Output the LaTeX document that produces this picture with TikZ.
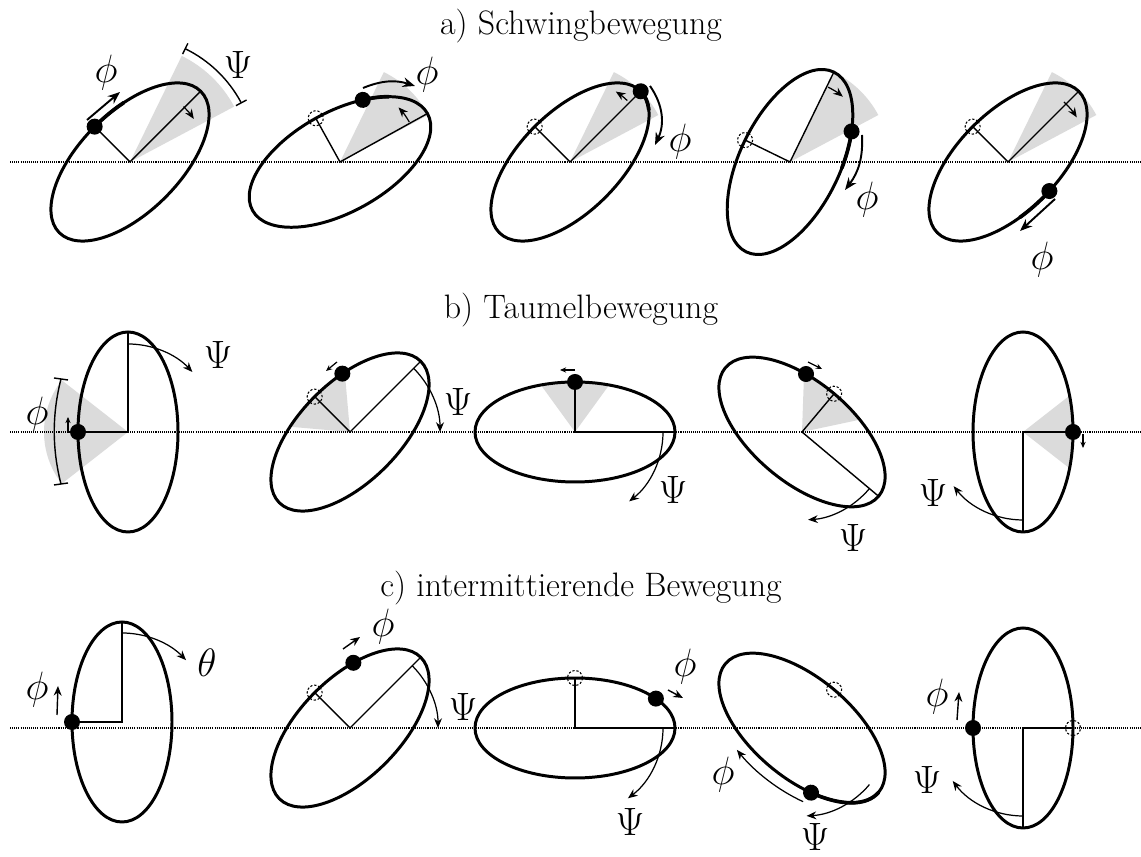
\RequirePackage{fix-cm}
\documentclass[tikz,border=0pt]{standalone}
\usetikzlibrary{arrows.meta}

\begin{document}
\begin{tikzpicture}[
  x=0.02cm,
  y=0.02cm,
  every node/.style={font=\fontsize{22.5}{27}\selectfont},
  heading/.style={font=\fontsize{19.3}{23}\selectfont, anchor=base},
  horizon/.style={line width=0.7pt, dash pattern=on 0.6pt off 0.6pt},
  ring/.style={line width=1.7pt},
  trail/.style={line width=2.1pt, line cap=round},
  spoke/.style={line width=0.8pt},
  sweep/.style={fill=black!14},
  mass/.style={fill=black},
  ghost/.style={line width=0.6pt, dash pattern=on 1.3pt off 1pt},
  span/.style={line width=0.8pt},
  turn/.style={line width=0.7pt, -{Stealth[length=5.5pt, width=4.5pt]}},
  nudge/.style={line width=0.7pt, -{Stealth[length=3.5pt, width=3pt]}},
  push/.style={line width=0.8pt, -{Stealth[length=5.5pt, width=4.5pt]}},
  slide/.style={line width=1.1pt, -{Stealth[length=7pt, width=5.5pt]}}
]
  % ---- page frame, pixel units of the original sketch ----
  \useasboundingbox (0,0) rectangle (1141,857);

  % ---- headings ----
  \node[heading] (titleA) at (581,822) {a) Schwingbewegung};
  \node[heading] (titleB) at (581,538) {b) Taumelbewegung};
  \node[heading] (titleC) at (581,260) {c) intermittierende Bewegung};

  % ================= a) Schwingbewegung =================
  % ---- a1 ----
  \begin{scope}[shift={(130,695)}]
    \fill[sweep] (0,0) -- (28:118) arc[start angle=28, end angle=64, radius=118] -- cycle;
    \draw[span] (28:126) arc[start angle=28, end angle=64, radius=126];
    \draw[span] (28:120) -- (28:132) (64:120) -- (64:132);
    \begin{scope}[rotate=45]
      \draw[ring] (0,0) ellipse[x radius=100, y radius=50];
      \draw[trail] (90:100 and 50) arc[start angle=90, end angle=68, x radius=100, y radius=50];
      \draw[spoke] (0:100 and 50) -- (0,0) -- (90:100 and 50);
      \fill[mass] (90:100 and 50) circle[radius=8];
    \end{scope}
    \draw[turn] (46:77) arc[start angle=46, end angle=34, radius=77];
    \draw[slide] (-43,42) -- (-10,70);
    \node (psiA1) at (108,97) {$\Psi$};
    \node (phiA1) at (-24,89) {$\phi$};
  \end{scope}

  % ---- a2 ----
  \begin{scope}[shift={(340,695)}]
    \fill[sweep] (0,0) -- (28:100) arc[start angle=28, end angle=64, radius=100] -- cycle;
    \begin{scope}[rotate=29]
      \draw[ring] (0,0) ellipse[x radius=100, y radius=50];
      \draw[trail] (60:100 and 50) arc[start angle=60, end angle=42, x radius=100, y radius=50];
      \draw[spoke] (0:100 and 50) -- (0,0) -- (90:100 and 50);
      \draw[ghost] (90:100 and 50) circle[radius=7.5];
      \fill[mass] (60:100 and 50) circle[radius=8];
    \end{scope}
    \draw[turn] (30:80) arc[start angle=30, end angle=43, radius=80];
    \draw[slide] (23,74) to[bend left=20] (75,76);
    \node (phiA2) at (87,87) {$\phi$};
  \end{scope}

  % ---- a3 ----
  \begin{scope}[shift={(570,695)}]
    \fill[sweep] (0,0) -- (28:100) arc[start angle=28, end angle=64, radius=100] -- cycle;
    \begin{scope}[rotate=45]
      \draw[ring] (0,0) ellipse[x radius=100, y radius=50];
      \draw[trail] (0:100 and 50) arc[start angle=0, end angle=-22, x radius=100, y radius=50];
      \draw[spoke] (0:100 and 50) -- (0,0) -- (90:100 and 50);
      \draw[ghost] (90:100 and 50) circle[radius=7.5];
      \fill[mass] (0:100 and 50) circle[radius=8];
    \end{scope}
    \draw[turn] (47:84) arc[start angle=47, end angle=57, radius=84];
    \draw[slide] (80,76) to[bend left=30] (85,17);
    \node (phiA3) at (110,20) {$\phi$};
  \end{scope}

  % ---- a4 ----
  \begin{scope}[shift={(790,695)}]
    \fill[sweep] (0,0) -- (28:100) arc[start angle=28, end angle=64, radius=100] -- cycle;
    \begin{scope}[rotate=64]
      \draw[ring] (0,0) ellipse[x radius=100, y radius=50];
      \draw[trail] (-57:100 and 50) arc[start angle=-57, end angle=-80, x radius=100, y radius=50];
      \draw[spoke] (0:100 and 50) -- (0,0) -- (90:100 and 50);
      \draw[ghost] (90:100 and 50) circle[radius=7.5];
      \fill[mass] (-57:100 and 50) circle[radius=8];
    \end{scope}
    \draw[turn] (63:84) arc[start angle=63, end angle=51, radius=84];
    \draw[slide] (72,27) to[bend left=20] (55,-28);
    \node (phiA4) at (77,-38) {$\phi$};
  \end{scope}

  % ---- a5 ----
  \begin{scope}[shift={(1008,695)}]
    \fill[sweep] (0,0) -- (28:100) arc[start angle=28, end angle=64, radius=100] -- cycle;
    \begin{scope}[rotate=45]
      \draw[ring] (0,0) ellipse[x radius=100, y radius=50];
      \draw[trail] (-85:100 and 50) arc[start angle=-85, end angle=-108, x radius=100, y radius=50];
      \draw[spoke] (0:100 and 50) -- (0,0) -- (90:100 and 50);
      \draw[ghost] (90:100 and 50) circle[radius=7.5];
      \fill[mass] (-85:100 and 50) circle[radius=8];
    \end{scope}
    \draw[turn] (47:82) arc[start angle=47, end angle=33, radius=82];
    \draw[slide] (47,-37) -- (12,-69);
    \node (phiA5) at (34,-98) {$\phi$};
  \end{scope}

  % ================= b) Taumelbewegung =================
  % ---- b1 ----
  \begin{scope}[shift={(128,425)}]
    \fill[sweep] (0,0) -- (142:84) arc[start angle=142, end angle=218, radius=84] -- cycle;
    \draw[span] (-67,53) .. controls (-76,18) and (-76,-17) .. (-67,-52);
    \draw[span] (-74,54) -- (-60,52) (-74,-53) -- (-60,-51);
    \begin{scope}[rotate=90]
      \draw[ring] (0,0) ellipse[x radius=100, y radius=50];
      \draw[spoke] (0:100 and 50) -- (0,0) -- (90:100 and 50);
      \fill[mass] (90:100 and 50) circle[radius=8];
    \end{scope}
    \draw[turn] (90:88) arc[start angle=90, end angle=43, radius=88];
    \draw[nudge] (-60,-1) -- (-60,15);
    \node (psiB1) at (90,77) {$\Psi$};
    \node (phiB1) at (-91,17) {$\phi$};
  \end{scope}

  % ---- b2 ----
  \begin{scope}[shift={(350,425)}]
    \begin{scope}[rotate=45]
      \begin{scope}
        \clip (0,0) ellipse[x radius=100, y radius=50];
        \fill[sweep] (0,0) -- (50:120) arc[start angle=50, end angle=130, radius=120] -- cycle;
      \end{scope}
      \draw[ring] (0,0) ellipse[x radius=100, y radius=50];
      \draw[spoke] (0:100 and 50) -- (0,0) -- (90:100 and 50);
      \draw[ghost] (90:100 and 50) circle[radius=7.5];
      \fill[mass] (69:100 and 50) circle[radius=8];
    \end{scope}
    \draw[turn] (45:90) arc[start angle=45, end angle=0, radius=90];
    \draw[nudge] (-13,70) -- (-24,61);
    \node (psiB2) at (108,30) {$\Psi$};
  \end{scope}

  % ---- b3 ----
  \begin{scope}[shift={(575,425)}]
    \begin{scope}
      \clip (0,0) ellipse[x radius=100, y radius=50];
      \fill[sweep] (0,0) -- (54:120) arc[start angle=54, end angle=126, radius=120] -- cycle;
    \end{scope}
    \draw[ring] (0,0) ellipse[x radius=100, y radius=50];
    \draw[spoke] (0:100 and 50) -- (0,0) -- (90:100 and 50);
    \fill[mass] (90:100 and 50) circle[radius=8];
    \draw[turn] (0:88) arc[start angle=0, end angle=-52, radius=88];
    \draw[nudge] (0,62) -- (-15,62);
    \node (psiB3) at (98,-58) {$\Psi$};
  \end{scope}

  % ---- b4 ----
  \begin{scope}[shift={(802,425)}]
    \begin{scope}[rotate=-40]
      \begin{scope}
        \clip (0,0) ellipse[x radius=100, y radius=50];
        \fill[sweep] (0,0) -- (52:120) arc[start angle=52, end angle=128, radius=120] -- cycle;
      \end{scope}
      \draw[ring] (0,0) ellipse[x radius=100, y radius=50];
      \draw[spoke] (0:100 and 50) -- (0,0) -- (90:100 and 50);
      \draw[ghost] (90:100 and 50) circle[radius=7.5];
      \fill[mass] (110:100 and 50) circle[radius=8];
    \end{scope}
    \draw[turn] (-40:88) arc[start angle=-40, end angle=-86, radius=88];
    \draw[nudge] (6,70) -- (20,63);
    \node (psiB4) at (51,-106) {$\Psi$};
  \end{scope}

  % ---- b5 ----
  \begin{scope}[shift={(1023,425)}]
    \begin{scope}[rotate=-90]
      \begin{scope}
        \clip (0,0) ellipse[x radius=100, y radius=50];
        \fill[sweep] (0,0) -- (52:120) arc[start angle=52, end angle=128, radius=120] -- cycle;
      \end{scope}
      \draw[ring] (0,0) ellipse[x radius=100, y radius=50];
      \draw[spoke] (0:100 and 50) -- (0,0) -- (90:100 and 50);
      \fill[mass] (90:100 and 50) circle[radius=8];
    \end{scope}
    \draw[turn] (-90:88) arc[start angle=-90, end angle=-142, radius=88];
    \draw[nudge] (60,-2) -- (60,-16);
    \node (psiB5) at (-90,-61) {$\Psi$};
  \end{scope}

  % ================= c) intermittierende Bewegung =================
  % ---- c1 ----
  \begin{scope}[shift={(122,135)}]
    \begin{scope}[rotate=90]
      \draw[ring] (0,0) ellipse[x radius=100, y radius=50];
      \draw[spoke] (0:100 and 50) -- (0,0) -- (90:100 and 50);
      \fill[mass] (90:100 and 50) circle[radius=8];
    \end{scope}
    \draw[turn] (90:89) arc[start angle=90, end angle=44, radius=89];
    \draw[push] (-65,7) -- (-64,36);
    \node (thetaC1) at (85,59) {$\theta$};
    \node (phiC1) at (-85,32) {$\phi$};
  \end{scope}

  % ---- c2 ----
  \begin{scope}[shift={(350,129)}]
    \begin{scope}[rotate=45]
      \draw[ring] (0,0) ellipse[x radius=100, y radius=50];
      \draw[spoke] (0:100 and 50) -- (0,0) -- (90:100 and 50);
      \draw[ghost] (90:100 and 50) circle[radius=7.5];
      \fill[mass] (61:100 and 50) circle[radius=8];
    \end{scope}
    \draw[turn] (45:88) arc[start angle=45, end angle=0, radius=88];
    \draw[push] (-7,79) -- (10,91);
    \node (phiC2) at (33,101) {$\phi$};
    \node (psiC2) at (113,21) {$\Psi$};
  \end{scope}

  % ---- c3 ----
  \begin{scope}[shift={(575,129)}]
    \draw[ring] (0,0) ellipse[x radius=100, y radius=50];
    \draw[spoke] (0:100 and 50) -- (0,0) -- (90:100 and 50);
    \draw[ghost] (90:100 and 50) circle[radius=7.5];
    \fill[mass] (36:100 and 50) circle[radius=8];
    \draw[turn] (0:88) arc[start angle=0, end angle=-53, radius=88];
    \draw[push] (93,38) -- (108,30);
    \node (phiC3) at (110,61) {$\phi$};
    \node (psiC3) at (55,-94) {$\Psi$};
  \end{scope}

  % ---- c4 ----
  \begin{scope}[shift={(802,129)}]
    \begin{scope}[rotate=-40]
      \draw[ring] (0,0) ellipse[x radius=100, y radius=50];
      \draw[trail] (-61:100 and 50) arc[start angle=-61, end angle=0, x radius=100, y radius=50];
      \draw[ghost] (90:100 and 50) circle[radius=7.5];
      \fill[mass] (-61:100 and 50) circle[radius=8];
      \draw[turn] (-64:110 and 62) arc[start angle=-64, end angle=-109, x radius=110, y radius=62];
    \end{scope}
    \draw[turn] (-40:88) arc[start angle=-40, end angle=-87, radius=88];
    \node (phiC4) at (-79,-47) {$\phi$};
    \node[anchor=base, inner sep=0pt] (psiC4) at (13,-123) {$\Psi$};
  \end{scope}

  % ---- c5 ----
  \begin{scope}[shift={(1023,129)}]
    \begin{scope}[rotate=-90]
      \draw[ring] (0,0) ellipse[x radius=100, y radius=50];
      \draw[spoke] (0:100 and 50) -- (0,0) -- (90:100 and 50);
      \draw[ghost] (90:100 and 50) circle[radius=7.5];
      \fill[mass] (-90:100 and 50) circle[radius=8];
    \end{scope}
    \draw[turn] (-90:88) arc[start angle=-90, end angle=-143, radius=88];
    \draw[push] (-66,8) -- (-64,36);
    \node (phiC5) at (-86,31) {$\phi$};
    \node (psiC5) at (-96,-52) {$\Psi$};
  \end{scope}

  % ---- dotted reference lines, drawn last so they show over the grey ----
  \draw[horizon] (10,695) -- (1141,695);
  \draw[horizon] (10,425) -- (1141,425);
  \draw[horizon] (10,129) -- (1141,129);
\end{tikzpicture}
\end{document}
